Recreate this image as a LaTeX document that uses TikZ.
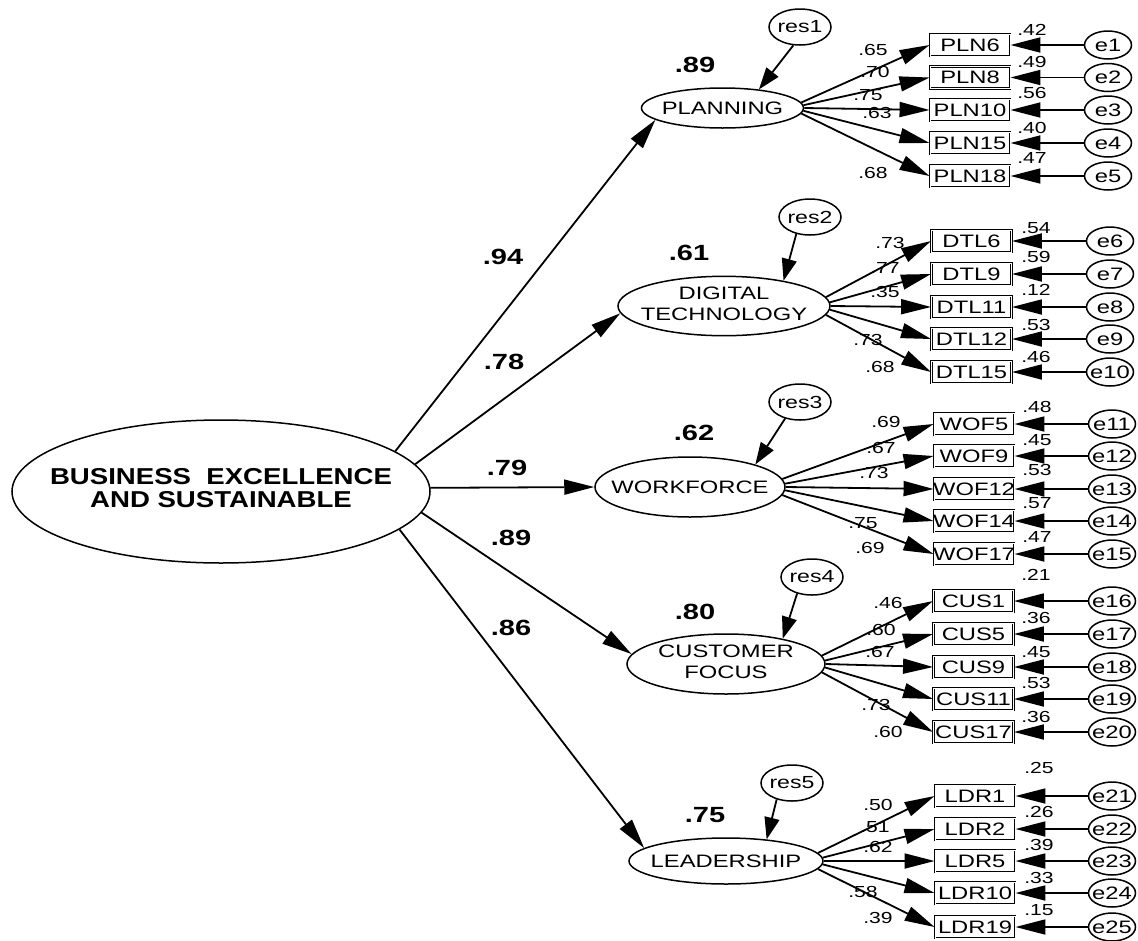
\documentclass[tikz,border=0pt]{standalone}
\usepackage{fontspec}
\setmainfont{Liberation Sans}
\usepackage{graphicx}
\usetikzlibrary{arrows.meta,shapes.geometric}
\newcommand{\hs}[1]{\scalebox{1.32}[1]{#1}}
\newcommand{\tx}[1]{\makebox[0pt]{\hs{#1}}}
\begin{document}
\begin{tikzpicture}[x=1pt,y=-1pt,
  lat/.style={ellipse, draw, line width=1.5pt, inner sep=0pt, font=\fontsize{18}{21}\selectfont},
  obs/.style={rectangle, draw, double, line width=0.9pt, double distance=0.7pt, minimum width=80pt, minimum height=22pt, inner sep=0pt, font=\fontsize{18}{21}\selectfont},
  err/.style={ellipse, draw, line width=1.5pt, minimum width=47pt, minimum height=28pt, inner sep=0pt, font=\fontsize{18}{21}\selectfont},
  resid/.style={ellipse, draw, line width=1.5pt, minimum width=62pt, minimum height=36pt, inner sep=0pt, font=\fontsize{17.5}{21}\selectfont},
  arr/.style={line width=1.8pt, -{Triangle[length=30pt,width=15pt]}},
  varr/.style={line width=1.8pt, -{Triangle[length=22pt,width=15pt]}},
  lab/.style={inner sep=0pt, font=\fontsize{16}{18}\selectfont},
  blab/.style={inner sep=0pt, font=\bfseries\fontsize{22}{24}\selectfont},
]
\useasboundingbox[fill=white] (0,0) rectangle (1138,940);

% main latent
\node[lat, minimum width=418pt, minimum height=143pt, font=\bfseries\fontsize{23}{23}\selectfont] (main) at (221,491.5)
  {\makebox[0pt]{\scalebox{1.2}[1]{\begin{tabular}{@{}c@{}}BUSINESS\ \ EXCELLENCE\\AND SUSTAINABLE\end{tabular}}}};

% first-order latents
\node[lat, minimum width=162pt, minimum height=40pt] (planning) at (722.5,108) {\tx{PLANNING}};
\node[lat, minimum width=212pt, minimum height=58pt] (digital) at (724,306) {\tx{\begin{tabular}{@{}c@{}}DIGITAL\\TECHNOLOGY\end{tabular}}};
\node[lat, minimum width=190pt, minimum height=60pt] (workforce) at (690,487) {\tx{WORKFORCE}};
\node[lat, minimum width=198pt, minimum height=60pt] (customer) at (726,664) {\tx{\begin{tabular}{@{}c@{}}CUSTOMER\\FOCUS\end{tabular}}};
\node[lat, minimum width=194pt, minimum height=46pt] (leadership) at (726,861) {\tx{LEADERSHIP}};

% residuals
\node[resid] (res1) at (800,27) {\tx{res1}};
\node[resid] (res2) at (810,217) {\tx{res2}};
\node[resid] (res3) at (800,402) {\tx{res3}};
\node[resid] (res4) at (812,577) {\tx{res4}};
\node[resid] (res5) at (792,783) {\tx{res5}};

\draw[varr] (res1.250) -- (planning.27);
\draw[varr] (res2.231) -- (digital.23);
\draw[varr] (res3.228) -- (workforce.19);
\draw[varr] (res4.228) -- (customer.24);
\draw[varr] (res5.227) -- (leadership.28);

% structural paths
\draw[arr] (main.13.6) -- (planning.190);
\draw[arr] (main.8.4) -- (digital.184);
\draw[arr] (main.1) -- (workforce.west);
\draw[arr] (main.-6.6) -- (customer.174.5);
\draw[arr] (main.-12.9) -- (leadership.171.7);

\node[blab] (g1) at (503,257) {\hs{.94}};
\node[blab] (g2) at (504,362) {\hs{.78}};
\node[blab] (g3) at (507,468) {\hs{.79}};
\node[blab] (g4) at (511,538) {\hs{.89}};
\node[blab] (g5) at (511,628) {\hs{.86}};

\node[blab] (r1) at (695,65) {\hs{.89}};
\node[blab] (r2) at (689,253) {\hs{.61}};
\node[blab] (r3) at (694,433) {\hs{.62}};
\node[blab] (r4) at (695,612) {\hs{.80}};
\node[blab] (r5) at (705,815) {\hs{.75}};

% PLANNING indicators
\foreach \i/\nm/\y/\en/\ve/\vy in {1/PLN6/45/e1/.42/30, 2/PLN8/77.5/e2/.49/62, 3/PLN10/110/e3/.56/93, 4/PLN15/143/e4/.40/128, 5/PLN18/176/e5/.47/158}{
  \node[obs] (p\i) at (970,\y) {\tx{\nm}};
  \node[err] (pe\i) at (1108,\y) {\tx{\en}};
  \draw[arr] (pe\i) -- (p\i.east);
  \node[lab] (pv\i) at (1032,\vy) {\hs{\ve}};
}
\foreach \i/\a/\ld/\lx/\ly in {1/4/.65/873/50, 2/2/.70/875/72, 3/0/.75/868/95, 4/-2/.63/877/113, 5/-4/.68/873/173}{
  \draw[arr] (planning.\a) -- (p\i.west);
  \node[lab] (pl\i) at (\lx,\ly) {\hs{\ld}};
}

% DIGITAL TECHNOLOGY indicators
\foreach \i/\nm/\y/\en/\ve/\vy in {1/DTL6/241/e6/.54/228, 2/DTL9/274/e7/.59/257, 3/DTL11/307/e8/.12/290, 4/DTL12/339/e9/.53/325, 5/DTL15/372/e10/.46/357}{
  \node[obs] (d\i) at (971.5,\y) {\tx{\nm}};
  \node[err] (de\i) at (1110,\y) {\tx{\en}};
  \draw[arr] (de\i) -- (d\i.east);
  \node[lab] (dv\i) at (1036,\vy) {\hs{\ve}};
}
\foreach \i/\a/\ld/\lx/\ly in {1/5/.73/890/243, 2/2.5/.77/885/268, 3/0/.35/885/292, 4/-2.5/.73/868/340, 5/-5/.68/880/367}{
  \draw[arr] (digital.\a) -- (d\i.west);
  \node[lab] (dl\i) at (\lx,\ly) {\hs{\ld}};
}

% WORKFORCE indicators
\foreach \i/\nm/\y/\en/\ve/\vy in {1/WOF5/424/e11/.48/407, 2/WOF9/456/e12/.45/440, 3/WOF12/489/e13/.53/470, 4/WOF14/521/e14/.57/503, 5/WOF17/554/e15/.47/537}{
  \node[obs] (w\i) at (974,\y) {\tx{\nm}};
  \node[err] (we\i) at (1112,\y) {\tx{\en}};
  \draw[arr] (we\i) -- (w\i.east);
  \node[lab] (wv\i) at (1037,\vy) {\hs{\ve}};
}
\foreach \i/\a/\ld/\lx/\ly in {1/5/.69/886/422, 2/2.5/.67/881/448, 3/0/.73/874/473, 4/-2.5/.75/863/523, 5/-5/.69/870/548}{
  \draw[arr] (workforce.\a) -- (w\i.west);
  \node[lab] (wl\i) at (\lx,\ly) {\hs{\ld}};
}

% CUSTOMER FOCUS indicators
\foreach \i/\nm/\y/\en/\ve/\vy in {1/CUS1/601/e16/.21/575, 2/CUS5/634/e17/.36/618, 3/CUS9/667/e18/.45/652, 4/CUS11/699/e19/.53/683, 5/CUS17/732/e20/.36/717}{
  \node[obs] (c\i) at (973.5,\y) {\tx{\nm}};
  \node[err] (ce\i) at (1112,\y) {\tx{\en}};
  \draw[arr] (ce\i) -- (c\i.east);
  \node[lab] (cv\i) at (1036,\vy) {\hs{\ve}};
}
\foreach \i/\a/\ld/\lx/\ly in {1/5/.46/888/603, 2/2.5/.60/881/630, 3/0/.67/880/652, 4/-2.5/.73/876/705, 5/-5/.60/888/732}{
  \draw[arr] (customer.\a) -- (c\i.west);
  \node[lab] (cl\i) at (\lx,\ly) {\hs{\ld}};
}

% LEADERSHIP indicators
\foreach \i/\nm/\y/\en/\ve/\vy in {1/LDR1/796/e21/.25/768, 2/LDR2/829/e22/.26/812, 3/LDR5/861/e23/.39/845, 4/LDR10/893/e24/.33/878, 5/LDR19/927/e25/.15/910}{
  \node[obs] (l\i) at (975,\y) {\tx{\nm}};
  \node[err] (le\i) at (1112,\y) {\tx{\en}};
  \draw[arr] (le\i) -- (l\i.east);
  \node[lab] (lv\i) at (1039,\vy) {\hs{\ve}};
}
\foreach \i/\a/\ld/\lx/\ly in {1/5/.50/878/805, 2/2.5/.51/875/827, 3/0/.62/878/847, 4/-2.5/.58/863/892, 5/-5/.39/878/918}{
  \draw[arr] (leadership.\a) -- (l\i.west);
  \node[lab] (ll\i) at (\lx,\ly) {\hs{\ld}};
}
\end{tikzpicture}
\end{document}
